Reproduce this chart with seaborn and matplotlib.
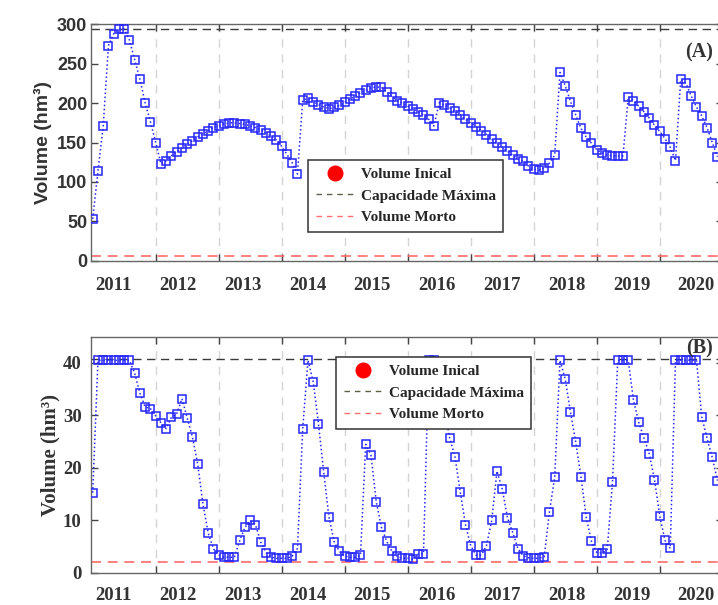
import numpy as np
import matplotlib
matplotlib.use("Agg")
import matplotlib.pyplot as plt
from matplotlib.lines import Line2D
import seaborn as sns

# Volumes mensais (hm³), jan/2011 a dez/2020
vol_a = [53, 114, 171, 273, 288, 294, 294, 280, 255, 230, 200, 176,
         150, 123, 127, 133, 138, 143, 148, 152, 157, 161, 165, 169,
         171, 173.5, 175, 175, 174, 173, 171, 169, 166, 162, 158, 153,
         145, 135, 124, 110, 204, 206, 202, 198, 195, 193, 194.5, 197,
         201, 205, 209, 213, 216.5, 219.5, 220.5, 220, 214.5, 208, 203, 200,
         196, 193, 189, 185, 179.5, 171, 200.5, 197.5, 194, 190, 185, 179.5,
         174.5, 170, 165, 160, 154, 149, 144, 139, 134, 129, 126, 120,
         116, 115, 118, 124, 134, 239, 222, 202, 185, 168, 157, 149,
         141, 137, 134, 133, 133, 133, 208, 203, 196, 189, 181, 172,
         164, 155, 144, 127, 230, 225, 209, 195, 184, 169, 150, 132]

vol_b = [15.3, 40.5, 40.5, 40.5, 40.5, 40.5, 40.5, 40.5, 38.0, 34.2, 31.6, 31.3,
         29.9, 28.6, 27.5, 29.7, 30.3, 33.2, 29.5, 25.9, 20.7, 13.1, 7.6, 4.6,
         3.4, 3.0, 3.0, 3.0, 6.2, 8.7, 10.0, 9.2, 5.9, 3.9, 3.0, 2.8,
         2.8, 2.8, 3.2, 4.7, 27.5, 40.5, 36.4, 28.4, 19.2, 10.6, 5.9, 4.1,
         3.2, 3.0, 3.0, 3.4, 24.5, 22.5, 13.6, 8.7, 6.0, 4.1, 3.2, 2.8,
         2.8, 2.6, 3.6, 3.6, 40.5, 40.5, 37.0, 31.0, 25.7, 22.1, 15.5, 9.2,
         5.2, 3.4, 3.4, 5.2, 10.0, 19.4, 16.0, 10.5, 7.7, 4.6, 3.3, 2.9,
         2.8, 2.8, 3.1, 11.7, 18.3, 40.5, 36.9, 30.6, 24.9, 18.3, 10.6, 6.0,
         3.9, 3.8, 4.5, 17.3, 40.5, 40.5, 40.5, 32.9, 28.7, 25.7, 22.7, 17.8,
         10.9, 6.2, 4.7, 40.5, 40.5, 40.5, 40.5, 40.5, 29.7, 25.7, 22.0, 17.6]

cap_a, morto_a = 294, 6
cap_b, morto_b = 40.7, 2.0

anos = ["2011", "2012", "2013", "2014", "2015", "2016", "2017", "2018", "2019", "2020"]
pos_anos = [3.9, 16.24, 28.58, 40.92, 53.26, 65.6, 77.94, 90.28, 102.62, 114.96]

meses = np.arange(len(vol_a))

sns.set_theme(style="white")
plt.rcParams["font.family"] = ["Liberation Serif", "DejaVu Serif"]

fig = plt.figure(figsize=(7.18, 6.05), dpi=100)
ax_a = fig.add_axes([0.1273, 0.5691, 0.8793, 0.3907])
ax_b = fig.add_axes([0.1273, 0.0529, 0.8793, 0.3906])

azul = "#2626ff"
leg_handles = [
    Line2D([], [], marker="o", color="red", linestyle="none", markersize=10.5),
    Line2D([], [], color="#5f5f48", linestyle=(0, (4, 3.5)), linewidth=1),
    Line2D([], [], color="#ff6f6f", linestyle=(0, (4, 3.5)), linewidth=1),
]
leg_labels = ["Volume Inical", "Capacidade Máxima", "Volume Morto"]


def painel(ax, vol, cap, morto, ylim, yticks, letra, letra_y, leg_xy, pad_lab,
           ytick_font, ylab_font, ytick_pad):
    sns.lineplot(x=meses, y=vol, ax=ax, color=azul, linestyle=":", linewidth=1.1,
                 marker="s", markersize=5.8, markerfacecolor="none",
                 markeredgecolor=azul, markeredgewidth=1.1, zorder=3)
    ax.axhline(cap, color="#3a3a3a", linestyle=(0, (6, 4)), linewidth=1, zorder=2)
    ax.axhline(morto, color="#ff6b6b", linestyle=(0, (6, 4)), linewidth=1.2, zorder=2)

    ax.set_xlim(-0.25, 120)
    ax.set_ylim(*ylim)
    ax.set_xticks(np.arange(12, 120, 12))
    ax.set_xticklabels([])
    ax.set_xticks(pos_anos, labels=anos, minor=True)
    ax.tick_params(axis="x", which="minor", length=0, pad=pad_lab, labelsize=13.5)
    for t in ax.get_xticklabels(minor=True):
        t.set_fontweight("bold")
        t.set_color("#333333")
    ax.tick_params(axis="x", which="major", direction="in", length=5, width=1,
                   color="#444444", top=True, bottom=True)

    ax.set_yticks(yticks)
    ax.set_yticklabels([str(v) for v in yticks])
    ax.tick_params(axis="y", direction="in", length=5, width=1, color="#444444",
                   left=True, right=True, pad=ytick_pad)
    for t in ax.get_yticklabels():
        t.set_fontfamily(ytick_font[0])
        t.set_fontsize(ytick_font[1])
        t.set_fontweight("bold")
        t.set_color("#333333")

    ax.grid(axis="x", which="major", color="#d4d4d4", linestyle=(0, (6, 5)), linewidth=1)
    ax.grid(axis="y", visible=False)
    for s in ax.spines.values():
        s.set_color("#666666")
        s.set_linewidth(1)

    ax.set_xlabel("")
    ax.set_ylabel("Volume (hm³)", fontfamily=ylab_font[0], fontsize=ylab_font[1],
                  fontweight="bold", color="#333333")

    ax.text(0.985, letra_y, letra, transform=ax.transAxes, ha="right", va="center",
            fontsize=14.5, fontweight="bold", color="#333333")

    leg = ax.legend(leg_handles, leg_labels, loc="upper left", bbox_to_anchor=leg_xy,
                    borderaxespad=0, frameon=True, fancybox=False, framealpha=1,
                    edgecolor="#333333", handlelength=2.5, handletextpad=0.45,
                    borderpad=0.5, labelspacing=0.5,
                    prop={"family": "Liberation Serif", "weight": "bold", "size": 11})
    leg.get_frame().set_linewidth(1.1)
    leg.set_zorder(5)


painel(ax_a, vol_a, cap_a, morto_a, (0, 300), [0, 50, 100, 150, 200, 250, 300],
       "(A)", 0.88, (0.343, 0.426), 11.5, ("Liberation Sans", 13),
       ("Liberation Sans", 14), 3)
painel(ax_b, vol_b, cap_b, morto_b, (0, 45), [0, 10, 20, 30, 40],
       "(B)", 0.95, (0.3875, 0.914), 10, ("Liberation Serif", 13.5),
       ("Liberation Serif", 15), 7)

ax_a.yaxis.set_label_coords(-0.063, 0.5)
ax_b.yaxis.set_label_coords(-0.049, 0.5)

fig.savefig("out.png", dpi=100, facecolor="white")
